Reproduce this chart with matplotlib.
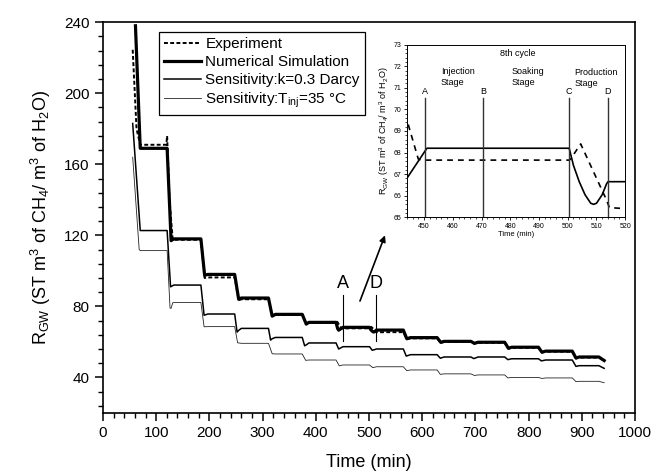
import numpy as np
import matplotlib
matplotlib.use('agg')
import matplotlib.pyplot as plt
from matplotlib.ticker import MultipleLocator

plt.rcParams['font.family'] = ['Liberation Sans', 'DejaVu Sans']
plt.rcParams['mathtext.fontset'] = 'custom'
plt.rcParams['mathtext.rm'] = 'Liberation Sans'
plt.rcParams['mathtext.it'] = 'Liberation Sans:italic'
plt.rcParams['mathtext.bf'] = 'Liberation Sans:bold'

# ---- main plot data (time in min, R_GW) ----
exp_t = [55.8, 63, 70, 119, 120.5, 125, 131, 184, 191, 197, 247.5, 255, 260,
         311, 318, 324, 374.5, 382, 387, 437, 439, 441, 444.5, 448, 501, 504.5,
         513.5, 514, 564.5, 571, 578, 628, 635, 641, 691.5, 698, 705, 755, 762,
         768, 818.5, 825, 832, 882, 889, 895, 932, 942]
exp_y = [224.5, 180, 171, 171, 176, 140, 117.5, 117.5, 96, 96.3, 96.3, 83.5, 84,
         84, 74.8, 75.3, 75.3, 70.3, 70.8, 70.8, 71.8, 71, 69.3, 67.6, 67.65, 68.4,
         65.7, 65.45, 65.5, 61.5, 62, 62, 59.5, 60, 60, 59, 59.5, 59.5, 56.2,
         56.7, 56.7, 54, 54.5, 54.5, 50.7, 51.2, 51.2, 49.3]

sim_t = [61, 70, 120.5, 128, 133, 184, 191, 197, 247.5, 255, 260, 311, 318, 324,
         374.5, 382, 387, 438, 441, 443, 444, 446, 448, 451, 501, 502, 504, 506,
         508, 509, 510, 512, 513.5, 514, 564.5, 571, 578, 628, 635, 641, 691.5,
         698, 705, 755, 762, 768, 818.5, 825, 832, 882, 889, 895, 932, 942]
sim_y = [238, 169, 169, 117, 118, 118, 97.5, 98, 98, 84, 84.7, 84.7, 74.5, 75.5,
         75.5, 70, 71, 71, 67.5, 66.6, 66.8, 67.2, 67.6, 68.2, 68.2, 67.4, 66.65, 66.05,
         65.65, 65.6, 65.65, 66.05, 66.6, 66.65, 66.65, 61.8, 62.4, 62.4, 59.7, 60.3, 60.3,
         59.2, 59.8, 59.8, 56.4, 57, 57, 54.2, 54.8, 54.8, 50.9, 51.5, 51.5, 49.5]

k_t = [55.8, 70, 120.5, 127, 133, 184, 190, 197, 247.5, 252, 255, 260, 311, 315,
       318, 324, 374.5, 379, 383, 387, 438, 443, 446, 451, 501, 506, 510, 514,
       564.5, 570, 574, 578, 628, 634, 641, 691.5, 697, 705, 755, 761, 768,
       818.5, 824, 832, 882, 889, 895, 932, 942]
k_y = [183, 122.7, 122.7, 91, 92, 92, 75, 75.7, 75.7, 65.5, 66.5, 67.6, 67.6, 61,
       61.8, 62.5, 62.5, 57.8, 58.5, 59.4, 59.4, 56, 56.5, 57.3, 57.3, 55.3, 55.6, 56,
       56, 52, 52.4, 52.8, 52.8, 50.8, 51.5, 51.5, 50.6, 51.5, 51.5, 50, 50.5,
       50.5, 49.3, 49.8, 49.8, 46.2, 46.6, 46.6, 45.1]

tinj_t = [55.8, 68, 70, 120.5, 126, 128, 131, 133, 184, 190, 197, 247.5, 253, 260,
          311, 318, 324, 374.5, 381, 387, 438, 444, 451, 501, 507, 514, 564.5, 571,
          578, 628, 634, 641, 691.5, 698, 705, 755, 761, 768, 818.5, 825, 832,
          882, 889, 895, 932, 942]
tinj_y = [164, 112, 111.4, 111.4, 79, 78.9, 82, 82.2, 82.2, 68.5, 68.6, 68.6, 59.5, 59.2,
          59.2, 53.3, 53.2, 53.2, 49.6, 49.8, 49.8, 46.5, 47, 47, 45.5, 46, 46, 43.8,
          44.2, 44.2, 41.7, 42, 42, 41.1, 41.4, 41.4, 39.7, 40, 40, 39.4, 39.7,
          39.7, 37.6, 37.8, 37.8, 37]

# ---- inset data: 8th cycle ----
in_sim_t = [444, 446, 448, 450, 451, 500.5, 502, 504, 506, 508, 509, 510, 512,
            513.5, 514, 520]
in_sim_y = [66.8, 67.2, 67.6, 68.0, 68.2, 68.2, 67.4, 66.65, 66.05, 65.65, 65.6,
            65.65, 66.05, 66.55, 66.65, 66.65]
in_exp_t = [444.5, 448, 449, 500.5, 501, 504.5, 513.5, 514.5, 520]
in_exp_y = [69.3, 67.7, 67.65, 67.65, 67.7, 68.4, 65.8, 65.45, 65.4]
stage_x = [450.5, 470.5, 500.5, 514]
stage_lbl = ['A', 'B', 'C', 'D']

ylab = r'R$_\mathrm{GW}$ (ST m$^3$ of CH$_4$/ m$^3$ of H$_2$O)'

fig = plt.figure(figsize=(6.54, 4.73), dpi=100)
ax = fig.add_axes([0.1575, 0.127, 0.8135, 0.826])

ax.plot(exp_t, exp_y, color='black', lw=1.4, ls=(0, (2, 1.2)), label='Experiment')
ax.plot(sim_t, sim_y, color='black', lw=2.3, label='Numerical Simulation')
ax.plot(k_t, k_y, color='black', lw=1.1, label='Sensitivity:k=0.3 Darcy')
ax.plot(tinj_t, tinj_y, color='#222222', lw=0.6,
        label='Sensitivity:T$_\\mathrm{inj}$=35 \u00b0C')

ax.set_xlim(0, 1000)
ax.set_ylim(20, 240)
ax.xaxis.set_major_locator(MultipleLocator(100))
ax.xaxis.set_minor_locator(MultipleLocator(20))
ax.yaxis.set_minor_locator(MultipleLocator(8))
ax.set_yticks([40, 80, 120, 160, 200, 240])
ax.tick_params(which='major', direction='out', length=6, width=1.1, labelsize=11)
ax.tick_params(which='minor', direction='out', length=3.5, width=1.0)
for s in ax.spines.values():
    s.set_linewidth(1.2)

ax.set_xlabel('Time (min)', fontsize=13, labelpad=10)
ax.set_ylabel(ylab, fontsize=13, labelpad=8)

leg = ax.legend(loc='upper left', bbox_to_anchor=(0.105, 0.975), borderaxespad=0,
                fontsize=11, handlelength=2.4, handletextpad=0.3, labelspacing=0.25,
                fancybox=False, framealpha=1, edgecolor='black', borderpad=0.35)
leg.get_frame().set_linewidth(0.9)

# A / D markers on main plot
for x, lbl in [(451, 'A'), (514, 'D')]:
    ax.plot([x, x], [60.6, 86.6], color='black', lw=0.8)
    ax.text(x, 88, lbl, fontsize=13, ha='center', va='bottom')
ax.annotate('', xy=(530, 120), xytext=(483, 83),
            arrowprops=dict(arrowstyle='-|>', color='black', lw=1.2,
                            mutation_scale=9, shrinkA=0, shrinkB=0))

# ---- inset ----
ins = fig.add_axes([0.622, 0.5406, 0.334, 0.365])
ins.plot(in_exp_t, in_exp_y, color='black', lw=1.2, ls=(0, (3.5, 3)))
ins.plot(in_sim_t, in_sim_y, color='black', lw=1.2)
for x, lbl in zip(stage_x, stage_lbl):
    ins.plot([x, x], [65, 70.55], color='#333333', lw=1.0)
    ins.text(x, 70.6, lbl, fontsize=6.5, ha='center', va='bottom')
ins.text(482.5, 72.6, '8th cycle', fontsize=6.5, ha='center', va='center')
ins.text(455.8, 71.95, 'Injection\nStage', fontsize=6.5, ha='left', va='top',
         linespacing=1.3)
ins.text(480.6, 71.95, 'Soaking\nStage', fontsize=6.5, ha='left', va='top',
         linespacing=1.3)
ins.text(502.3, 71.9, 'Production\nStage', fontsize=6.5, ha='left', va='top',
         linespacing=1.3)

ins.set_xlim(444, 520)
ins.set_ylim(65, 73)
ins.xaxis.set_major_locator(MultipleLocator(10))
ins.xaxis.set_minor_locator(MultipleLocator(2))
ins.yaxis.set_major_locator(MultipleLocator(1))
ins.yaxis.set_minor_locator(MultipleLocator(0.2))
ins.tick_params(which='major', direction='out', length=2.5, width=0.6, labelsize=5, pad=1.5)
ins.tick_params(which='minor', direction='out', length=1.3, width=0.5)
for s in ins.spines.values():
    s.set_linewidth(0.7)
ins.set_xlabel('Time (min)', fontsize=5.5, labelpad=1)
ins.set_ylabel(ylab, fontsize=6.5, labelpad=2)

plt.savefig('out.png', dpi=100)
